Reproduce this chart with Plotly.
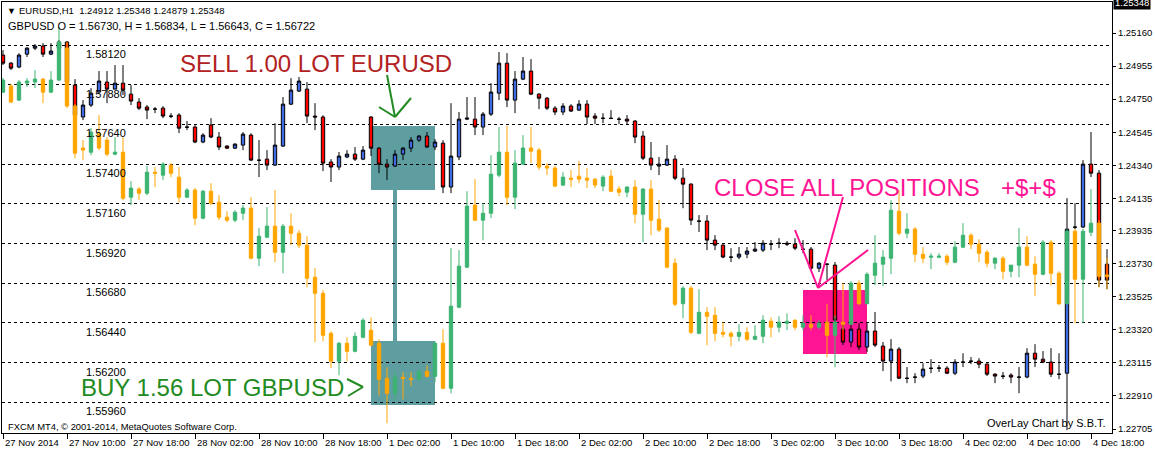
import plotly.graph_objects as go

# ---------------- data ----------------
time_labels = ["27 Nov 2014", "27 Nov 10:00", "27 Nov 18:00", "28 Nov 02:00", "28 Nov 10:00",
               "28 Nov 18:00", "1 Dec 02:00", "1 Dec 10:00", "1 Dec 18:00", "2 Dec 02:00",
               "2 Dec 10:00", "2 Dec 18:00", "3 Dec 02:00", "3 Dec 10:00", "3 Dec 18:00",
               "4 Dec 02:00", "4 Dec 10:00", "4 Dec 18:00"]
time_label_bars = [0, 8, 16, 24, 32, 40, 48, 56, 64, 72, 80, 88, 96, 104, 112, 120, 128, 136]

eur_ticks = [1.25160, 1.24955, 1.24750, 1.24545, 1.24340, 1.24135, 1.23935,
             1.23730, 1.23525, 1.23320, 1.23115, 1.22910, 1.22705]
gbp_levels = [1.58120, 1.57880, 1.57640, 1.57400, 1.57160, 1.56920,
              1.56680, 1.56440, 1.56200, 1.55960]
eur_last = 1.25348

eur_open = [1.25023, 1.24973, 1.24949, 1.25029, 1.25066, 1.25079, 1.25029, 1.25066, 1.25104, 1.24837,
            1.24639, 1.24713, 1.24794, 1.24856, 1.24812, 1.24849, 1.24781, 1.24732, 1.24701, 1.24688,
            1.24694, 1.24645, 1.24651, 1.24577, 1.24577, 1.24484, 1.24589, 1.24515, 1.24459, 1.24446,
            1.24465, 1.24527, 1.24372, 1.24378, 1.24341, 1.24459, 1.24719, 1.24800, 1.24812, 1.24645,
            1.24639, 1.24360, 1.24329, 1.24391, 1.24409, 1.24378, 1.24639, 1.24446, 1.24347, 1.24335,
            1.24409, 1.24446, 1.24496, 1.24521, 1.24453, 1.24477, 1.24205, 1.24391, 1.24626, 1.24626,
            1.24577, 1.24657, 1.24787, 1.24973, 1.24744, 1.24874, 1.24924, 1.24781, 1.24756, 1.24694,
            1.24670, 1.24707, 1.24682, 1.24719, 1.24645, 1.24632, 1.24632, 1.24626, 1.24626, 1.24614,
            1.24521, 1.24384, 1.24335, 1.24341, 1.24378, 1.24260, 1.24223, 1.23994, 1.23994, 1.23876,
            1.23845, 1.23771, 1.23771, 1.23789, 1.23808, 1.23814, 1.23851, 1.23857, 1.23857, 1.23851,
            1.23820, 1.23820, 1.23702, 1.23727, 1.23721, 1.23324, 1.23244, 1.23324, 1.23213, 1.23312,
            1.23219, 1.23126, 1.23200, 1.23020, 1.23027, 1.23033, 1.23082, 1.23082, 1.23082, 1.23051,
            1.23120, 1.23126, 1.23126, 1.23107, 1.23045, 1.23033, 1.23039, 1.23027, 1.23027, 1.23175,
            1.23138, 1.23120, 1.23045, 1.23051, 1.23957, 1.23957, 1.24347, 1.24291, 1.23727]
eur_high = [1.25054, 1.24980, 1.25035, 1.25073, 1.25091, 1.25097, 1.25097, 1.25116, 1.25110, 1.24874,
            1.24744, 1.24818, 1.24924, 1.24924, 1.24961, 1.24961, 1.24837, 1.24756, 1.24713, 1.24701,
            1.24707, 1.24663, 1.24663, 1.24614, 1.24589, 1.24539, 1.24632, 1.24546, 1.24465, 1.24477,
            1.24546, 1.24539, 1.24496, 1.24434, 1.24601, 1.24763, 1.24880, 1.24887, 1.24856, 1.24725,
            1.24650, 1.24378, 1.24422, 1.24434, 1.24453, 1.24459, 1.24645, 1.24453, 1.24378, 1.24434,
            1.24453, 1.24515, 1.24527, 1.24546, 1.24502, 1.24496, 1.24725, 1.24670, 1.24763, 1.24763,
            1.24670, 1.24849, 1.25042, 1.25035, 1.24924, 1.25011, 1.24998, 1.24787, 1.24763, 1.24707,
            1.24725, 1.24719, 1.24744, 1.24744, 1.24663, 1.24663, 1.24682, 1.24639, 1.24651, 1.24620,
            1.24552, 1.24484, 1.24391, 1.24465, 1.24403, 1.24322, 1.24229, 1.24031, 1.24031, 1.23907,
            1.23851, 1.23826, 1.23833, 1.23833, 1.23864, 1.23876, 1.23876, 1.23888, 1.23870, 1.23888,
            1.23876, 1.23833, 1.23740, 1.23733, 1.23740, 1.23361, 1.23361, 1.23361, 1.23361, 1.23430,
            1.23244, 1.23262, 1.23213, 1.23089, 1.23051, 1.23113, 1.23138, 1.23101, 1.23095, 1.23138,
            1.23175, 1.23151, 1.23144, 1.23113, 1.23051, 1.23058, 1.23051, 1.23089, 1.23206, 1.23231,
            1.23188, 1.23206, 1.23175, 1.24136, 1.24105, 1.24372, 1.24546, 1.24310, 1.23820]
eur_low = [1.24961, 1.24930, 1.24942, 1.25011, 1.25054, 1.25011, 1.25023, 1.25060, 1.24843, 1.24632,
           1.24620, 1.24701, 1.24787, 1.24725, 1.24812, 1.24775, 1.24713, 1.24682, 1.24626, 1.24663,
           1.24632, 1.24632, 1.24539, 1.24558, 1.24477, 1.24477, 1.24508, 1.24434, 1.24440, 1.24440,
           1.24434, 1.24366, 1.24267, 1.24310, 1.24335, 1.24453, 1.24713, 1.24794, 1.24601, 1.24558,
           1.24304, 1.24236, 1.24310, 1.24384, 1.24366, 1.24372, 1.24397, 1.24291, 1.24248, 1.24329,
           1.24372, 1.24422, 1.24484, 1.24446, 1.24434, 1.24167, 1.24167, 1.24372, 1.24620, 1.24527,
           1.24527, 1.24645, 1.24744, 1.24701, 1.24663, 1.24868, 1.24775, 1.24688, 1.24682, 1.24651,
           1.24651, 1.24670, 1.24676, 1.24595, 1.24595, 1.24601, 1.24626, 1.24595, 1.24595, 1.24477,
           1.24372, 1.24310, 1.24279, 1.24335, 1.24248, 1.24074, 1.23969, 1.23926, 1.23814, 1.23814,
           1.23764, 1.23740, 1.23758, 1.23764, 1.23802, 1.23802, 1.23814, 1.23826, 1.23839, 1.23814,
           1.23795, 1.23690, 1.23678, 1.23628, 1.23349, 1.23225, 1.23213, 1.23194, 1.23182, 1.23213,
           1.23064, 1.23000, 1.23014, 1.22989, 1.22989, 1.23020, 1.23051, 1.23058, 1.23045, 1.23039,
           1.23089, 1.23107, 1.23082, 1.23033, 1.22989, 1.23014, 1.22989, 1.22927, 1.23020, 1.23089,
           1.23113, 1.23027, 1.23014, 1.22698, 1.23944, 1.23950, 1.24267, 1.23585, 1.23572]
eur_close = [1.24973, 1.24942, 1.25023, 1.25066, 1.25079, 1.25029, 1.25048, 1.25104, 1.24856, 1.24651,
             1.24713, 1.24787, 1.24862, 1.24812, 1.24849, 1.24806, 1.24738, 1.24694, 1.24682, 1.24688,
             1.24645, 1.24644, 1.24570, 1.24576, 1.24484, 1.24527, 1.24515, 1.24453, 1.24446, 1.24471,
             1.24533, 1.24372, 1.24371, 1.24341, 1.24465, 1.24719, 1.24806, 1.24862, 1.24645, 1.24639,
             1.24353, 1.24329, 1.24397, 1.24409, 1.24378, 1.24434, 1.24446, 1.24347, 1.24329, 1.24409,
             1.24446, 1.24496, 1.24521, 1.24453, 1.24484, 1.24205, 1.24397, 1.24626, 1.24632, 1.24577,
             1.24657, 1.24794, 1.24973, 1.24744, 1.24874, 1.24924, 1.24781, 1.24756, 1.24694, 1.24670,
             1.24707, 1.24676, 1.24719, 1.24639, 1.24632, 1.24631, 1.24630, 1.24625, 1.24614, 1.24515,
             1.24384, 1.24341, 1.24347, 1.24378, 1.24260, 1.24223, 1.24000, 1.23993, 1.23876, 1.23845,
             1.23771, 1.23770, 1.23789, 1.23808, 1.23820, 1.23857, 1.23850, 1.23856, 1.23851, 1.23826,
             1.23819, 1.23702, 1.23733, 1.23726, 1.23380, 1.23244, 1.23324, 1.23213, 1.23312, 1.23225,
             1.23126, 1.23200, 1.23020, 1.23019, 1.23026, 1.23076, 1.23081, 1.23083, 1.23051, 1.23120,
             1.23119, 1.23125, 1.23107, 1.23045, 1.23033, 1.23032, 1.23027, 1.23026, 1.23175, 1.23138,
             1.23120, 1.23045, 1.23044, 1.23944, 1.23956, 1.24347, 1.24291, 1.23628, 1.23628]

gbp_open = [1.57835, 1.57872, 1.57787, 1.57890, 1.57896, 1.57914, 1.57835, 1.57908, 1.58102, 1.57751,
            1.57497, 1.57472, 1.57587, 1.57545, 1.57460, 1.57472, 1.57200, 1.57249, 1.57224, 1.57351,
            1.57333, 1.57394, 1.57321, 1.57200, 1.57243, 1.57073, 1.57236, 1.57170, 1.57079, 1.57061,
            1.57103, 1.57134, 1.56831, 1.56958, 1.57025, 1.56867, 1.57025, 1.56982, 1.56910, 1.56716,
            1.56619, 1.56377, 1.56208, 1.56317, 1.56268, 1.56353, 1.56396, 1.56317, 1.56105, 1.56014,
            1.56111, 1.56105, 1.56099, 1.56147, 1.56117, 1.56317, 1.56045, 1.56535, 1.56777, 1.57152,
            1.57061, 1.57103, 1.57333, 1.57472, 1.57200, 1.57400, 1.57497, 1.57485, 1.57388, 1.57376,
            1.57273, 1.57315, 1.57327, 1.57315, 1.57309, 1.57267, 1.57327, 1.57249, 1.57230, 1.57261,
            1.57097, 1.57249, 1.57067, 1.57013, 1.56801, 1.56556, 1.56650, 1.56377, 1.56504, 1.56486,
            1.56383, 1.56377, 1.56359, 1.56383, 1.56341, 1.56359, 1.56450, 1.56414, 1.56438, 1.56456,
            1.56414, 1.56432, 1.56414, 1.56444, 1.56365, 1.56444, 1.56432, 1.56680, 1.56556, 1.56728,
            1.56795, 1.56831, 1.57115, 1.56982, 1.57007, 1.56855, 1.56837, 1.56837, 1.56843, 1.56807,
            1.56898, 1.56970, 1.56916, 1.56867, 1.56801, 1.56831, 1.56752, 1.56789, 1.56898, 1.56795,
            1.56734, 1.56928, 1.56740, 1.56556, 1.56994, 1.56704, 1.56988, 1.57043, 1.56730]
gbp_high = [1.57920, 1.57884, 1.57908, 1.57920, 1.57969, 1.57920, 1.57962, 1.58229, 1.58138, 1.57763,
            1.57545, 1.57618, 1.57696, 1.57563, 1.57563, 1.57563, 1.57297, 1.57261, 1.57388, 1.57382,
            1.57412, 1.57406, 1.57382, 1.57255, 1.57255, 1.57243, 1.57285, 1.57212, 1.57115, 1.57121,
            1.57152, 1.57200, 1.57013, 1.57140, 1.57243, 1.57037, 1.57103, 1.57001, 1.56964, 1.56771,
            1.56638, 1.56389, 1.56323, 1.56353, 1.56383, 1.56468, 1.56474, 1.56341, 1.56172, 1.56147,
            1.56141, 1.56141, 1.56154, 1.56184, 1.56329, 1.56402, 1.56892, 1.56880, 1.57236, 1.57309,
            1.57164, 1.57454, 1.57624, 1.57630, 1.57485, 1.57575, 1.57624, 1.57497, 1.57406, 1.57388,
            1.57351, 1.57364, 1.57418, 1.57376, 1.57315, 1.57333, 1.57364, 1.57267, 1.57267, 1.57303,
            1.57255, 1.57303, 1.57182, 1.57019, 1.56831, 1.56662, 1.56662, 1.56644, 1.56535, 1.56535,
            1.56444, 1.56389, 1.56432, 1.56414, 1.56426, 1.56486, 1.56474, 1.56480, 1.56498, 1.56462,
            1.56486, 1.56486, 1.56456, 1.56556, 1.56486, 1.56680, 1.56692, 1.56698, 1.56746, 1.56970,
            1.56880, 1.57182, 1.57243, 1.57103, 1.57019, 1.56898, 1.56861, 1.56861, 1.56855, 1.56934,
            1.57043, 1.56982, 1.56946, 1.56880, 1.56837, 1.56843, 1.56789, 1.57013, 1.56964, 1.56843,
            1.56940, 1.56940, 1.56752, 1.57007, 1.57007, 1.57007, 1.57249, 1.57061, 1.56834]
gbp_low = [1.57829, 1.57769, 1.57781, 1.57866, 1.57860, 1.57769, 1.57829, 1.57902, 1.57739, 1.57436,
           1.57424, 1.57454, 1.57485, 1.57448, 1.57454, 1.57182, 1.57152, 1.57182, 1.57212, 1.57261,
           1.57303, 1.57321, 1.57170, 1.57194, 1.57031, 1.57067, 1.57152, 1.57061, 1.57049, 1.57049,
           1.57061, 1.56825, 1.56783, 1.56952, 1.56807, 1.56740, 1.56910, 1.56892, 1.56656, 1.56323,
           1.56329, 1.56166, 1.56123, 1.56208, 1.56262, 1.56347, 1.56299, 1.56002, 1.55833, 1.55972,
           1.55978, 1.56057, 1.56093, 1.56111, 1.56081, 1.56039, 1.56014, 1.56529, 1.56771, 1.57055,
           1.56940, 1.57073, 1.57321, 1.57152, 1.57128, 1.57394, 1.57406, 1.57364, 1.57333, 1.57261,
           1.57267, 1.57261, 1.57285, 1.57255, 1.57255, 1.57236, 1.57230, 1.57206, 1.57200, 1.57043,
           1.56928, 1.56970, 1.56988, 1.56771, 1.56541, 1.56468, 1.56371, 1.56371, 1.56305, 1.56329,
           1.56353, 1.56299, 1.56329, 1.56329, 1.56335, 1.56317, 1.56353, 1.56383, 1.56396, 1.56396,
           1.56396, 1.56396, 1.56402, 1.56232, 1.56172, 1.56396, 1.56426, 1.56547, 1.56553, 1.56668,
           1.56662, 1.56734, 1.56970, 1.56952, 1.56807, 1.56801, 1.56765, 1.56831, 1.56789, 1.56801,
           1.56892, 1.56886, 1.56807, 1.56777, 1.56765, 1.56704, 1.56716, 1.56716, 1.56783, 1.56601,
           1.56728, 1.56668, 1.56547, 1.56553, 1.56438, 1.56438, 1.56964, 1.56656, 1.56643]
gbp_close = [1.57908, 1.57775, 1.57896, 1.57902, 1.57914, 1.57835, 1.57908, 1.58138, 1.57751, 1.57466,
             1.57485, 1.57593, 1.57497, 1.57460, 1.57472, 1.57194, 1.57255, 1.57224, 1.57351, 1.57345,
             1.57400, 1.57345, 1.57200, 1.57243, 1.57073, 1.57236, 1.57164, 1.57079, 1.57061, 1.57109,
             1.57134, 1.56831, 1.56964, 1.57025, 1.56867, 1.57025, 1.56982, 1.56910, 1.56710, 1.56619,
             1.56365, 1.56208, 1.56317, 1.56268, 1.56359, 1.56456, 1.56305, 1.56099, 1.56014, 1.56111,
             1.56105, 1.56099, 1.56147, 1.56117, 1.56317, 1.56045, 1.56541, 1.56783, 1.57146, 1.57061,
             1.57103, 1.57339, 1.57472, 1.57200, 1.57406, 1.57497, 1.57478, 1.57382, 1.57376, 1.57267,
             1.57321, 1.57309, 1.57309, 1.57303, 1.57273, 1.57321, 1.57236, 1.57230, 1.57261, 1.57097,
             1.57249, 1.57061, 1.57001, 1.56777, 1.56553, 1.56650, 1.56383, 1.56504, 1.56480, 1.56377,
             1.56371, 1.56359, 1.56383, 1.56341, 1.56359, 1.56456, 1.56414, 1.56444, 1.56450, 1.56414,
             1.56438, 1.56414, 1.56438, 1.56365, 1.56444, 1.56432, 1.56680, 1.56556, 1.56734, 1.56801,
             1.56837, 1.57121, 1.56982, 1.57007, 1.56855, 1.56831, 1.56843, 1.56843, 1.56807, 1.56898,
             1.56970, 1.56916, 1.56861, 1.56801, 1.56831, 1.56752, 1.56789, 1.56898, 1.56789, 1.56734,
             1.56928, 1.56740, 1.56556, 1.56994, 1.56704, 1.56994, 1.57043, 1.56722, 1.56722]

bars = list(range(len(eur_open)))

# ---------------- styling ----------------
W, H = 1155, 451
PL, PR, PT, PB = 2, 1112, 2, 433
FONT = "Liberation Sans, Arial, sans-serif"
EUR_UP, EUR_DN = "#4169E1", "#FF0000"
GBP_UP, GBP_DN = "#3CB371", "#FFA500"
TEAL, PINK, GREEN, DARKRED = "#5F9EA0", "#FF1493", "#228B22", "#B22222"


def fx(px):
    return (px - PL) / (PR - PL)


def fy(py):
    return (PB - py) / (PB - PT)


fig = go.Figure()
fig.add_trace(go.Candlestick(
    x=bars, open=eur_open, high=eur_high, low=eur_low, close=eur_close,
    increasing=dict(line=dict(color="black", width=1), fillcolor=EUR_UP),
    decreasing=dict(line=dict(color="black", width=1), fillcolor=EUR_DN),
    whiskerwidth=0, yaxis="y", showlegend=False, hoverinfo="skip", name="EURUSD"))
fig.add_trace(go.Candlestick(
    x=bars, open=gbp_open, high=gbp_high, low=gbp_low, close=gbp_close,
    increasing=dict(line=dict(color=GBP_UP, width=1), fillcolor=GBP_UP),
    decreasing=dict(line=dict(color=GBP_DN, width=1), fillcolor=GBP_DN),
    whiskerwidth=0, yaxis="y2", showlegend=False, hoverinfo="skip", name="GBPUSD"))

# axis ranges follow the price scales of the picture
eur_px = (eur_ticks[0] - eur_ticks[-1]) / (429.0 - 33.0)
gbp_px = (gbp_levels[0] - gbp_levels[-1]) / (402.3 - 45.0)
eur_range = [eur_ticks[0] - (PB - 33.0) * eur_px, eur_ticks[0] + (33.0 - PT) * eur_px]
gbp_range = [gbp_levels[0] - (PB - 45.0) * gbp_px, gbp_levels[0] + (45.0 - PT) * gbp_px]

fig.update_layout(
    width=W, height=H,
    margin=dict(l=PL, r=W - PR, t=PT, b=H - PB, pad=0),
    paper_bgcolor="white", plot_bgcolor="white",
    font=dict(family=FONT, color="black", size=10),
    boxgap=0.4,
    xaxis=dict(range=[-(3 - PL) / 8.0, (PR - 3) / 8.0], showgrid=False, zeroline=False,
               showline=True, linecolor="black", linewidth=1, mirror=True,
               ticks="outside", ticklen=5, tickcolor="black", tickvals=time_label_bars,
               showticklabels=False, rangeslider=dict(visible=False), fixedrange=True),
    yaxis=dict(range=eur_range, side="right", showgrid=False, zeroline=False,
               showline=True, linecolor="black", linewidth=1, mirror=True,
               ticks="outside", ticklen=3, tickcolor="black",
               tickvals=eur_ticks, ticktext=[f"{v:.5f}" for v in eur_ticks],
               tickfont=dict(size=9.5, family=FONT, color="black"), fixedrange=True),
    yaxis2=dict(range=gbp_range, overlaying="y", side="left", showgrid=True,
                gridcolor="black", gridwidth=1, griddash="3px,3px", zeroline=False,
                showline=False, showticklabels=False, ticks="", tickvals=gbp_levels,
                fixedrange=True),
)

shapes = []
# teal boxes (trade entry)
for (x0, y0, x1, y1) in [(371, 126, 435, 190), (371, 341, 435, 405), (393, 190, 397, 341)]:
    shapes.append(dict(type="rect", xref="paper", yref="paper", x0=fx(x0), x1=fx(x1),
                       y0=fy(y1), y1=fy(y0), fillcolor=TEAL, line=dict(width=0), layer="below"))
# pink box (exit)
shapes.append(dict(type="rect", xref="paper", yref="paper", x0=fx(803), x1=fx(867),
                   y0=fy(354), y1=fy(290), fillcolor=PINK, line=dict(width=0), layer="below"))


def seg(p, q, color, width=2):
    return dict(type="line", xref="paper", yref="paper", x0=fx(p[0]), y0=fy(p[1]),
                x1=fx(q[0]), y1=fy(q[1]), line=dict(color=color, width=width), layer="above")


shapes += [seg((387, 75), (395, 117), GREEN), seg((379, 107), (395, 117), GREEN),
           seg((395, 117), (411, 98), GREEN)]
shapes += [seg((347, 379), (363, 387), GREEN), seg((363, 387), (348, 396), GREEN)]
shapes += [seg((795, 230), (818, 288), PINK), seg((843, 197), (818, 288), PINK),
           seg((818, 288), (868, 250), PINK)]
fig.update_layout(shapes=shapes)

ann = []


def txt(s, x, y, size, color="black", xanchor="left", yanchor="middle", **kw):
    d = dict(text=s, xref="paper", yref="paper", x=fx(x), y=fy(y), showarrow=False,
             xanchor=xanchor, yanchor=yanchor, font=dict(family=FONT, size=size, color=color))
    d.update(kw)
    ann.append(d)


txt("\u25bc", 5, 11, 9)
txt("EURUSD,H1  1.24912 1.25348 1.24879 1.25348", 17, 11, 9.5)
txt("GBPUSD O = 1.56730, H = 1.56834, L = 1.56643, C = 1.56722", 6, 26, 11)
txt("FXCM MT4, \u00a9 2001-2014, MetaQuotes Software Corp.", 6, 426, 9.4)
txt("OverLay Chart by S.B.T.", 1108, 423, 11, xanchor="right")
txt("SELL 1.00 LOT EURUSD", 315.5, 63, 24, color=DARKRED, xanchor="center")
txt("BUY 1.56 LOT GBPUSD", 79, 387, 24, color=GREEN)
txt("CLOSE ALL POSITIONS", 712, 187, 24, color=PINK)
txt("+$+$", 999, 187, 24, color=PINK)

# GBPUSD level labels inside the chart
for lv in gbp_levels:
    ann.append(dict(text=f"{lv:.5f}", xref="paper", yref="y2", x=fx(128), y=lv,
                    xanchor="right", yanchor="top", yshift=-1, showarrow=False,
                    font=dict(family=FONT, size=11, color="black")))

# time labels (left aligned after each tick, MT4 style)
for b, lab in zip(time_label_bars, time_labels):
    ann.append(dict(text=lab, xref="x", yref="paper", x=b, y=0, xanchor="left",
                    yanchor="top", yshift=-2, xshift=0, showarrow=False,
                    font=dict(family=FONT, size=9.5, color="black")))

# current price marker
ann.append(dict(text=f"{eur_last:.5f}", xref="paper", yref="y", x=1.0, y=eur_last,
                xanchor="left", yanchor="middle", xshift=1, showarrow=False,
                bgcolor="black", borderpad=1,
                font=dict(family=FONT, size=9.5, color="white")))

fig.update_layout(annotations=ann)
fig.write_html("out.html", config={"displayModeBar": False},
               post_script="document.body.style.margin='0';document.body.style.padding='0';")
